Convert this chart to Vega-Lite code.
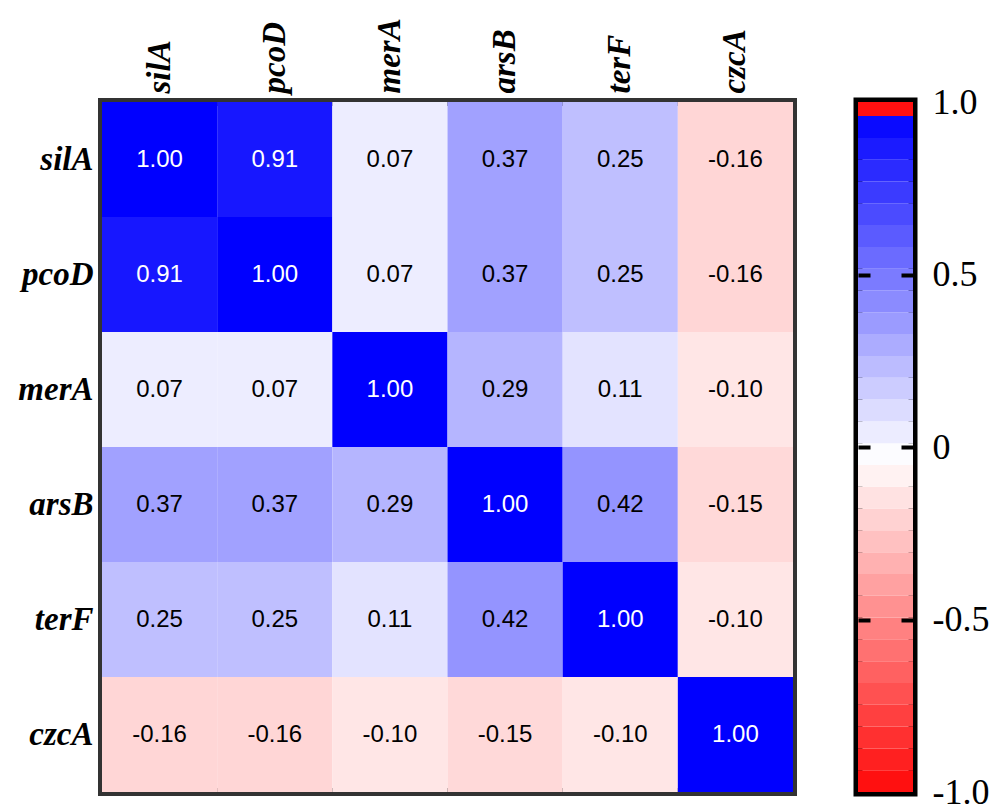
{
  "$schema": "https://vega.github.io/schema/vega-lite/v6.json",
  "background": "white",
  "padding": {"left": 8, "top": 8, "right": 0, "bottom": 0},
  "config": {
    "locale": {"number": {"decimal": ".", "thousands": ",", "grouping": [3], "currency": ["$", ""], "minus": "-"}},
    "view": {"stroke": null},
    "concat": {"spacing": 54}
  },
  "datasets": {
    "corr": [
      {"row": "silA", "col": "silA", "value": 1.00}, {"row": "silA", "col": "pcoD", "value": 0.91}, {"row": "silA", "col": "merA", "value": 0.07}, {"row": "silA", "col": "arsB", "value": 0.37}, {"row": "silA", "col": "terF", "value": 0.25}, {"row": "silA", "col": "czcA", "value": -0.16},
      {"row": "pcoD", "col": "silA", "value": 0.91}, {"row": "pcoD", "col": "pcoD", "value": 1.00}, {"row": "pcoD", "col": "merA", "value": 0.07}, {"row": "pcoD", "col": "arsB", "value": 0.37}, {"row": "pcoD", "col": "terF", "value": 0.25}, {"row": "pcoD", "col": "czcA", "value": -0.16},
      {"row": "merA", "col": "silA", "value": 0.07}, {"row": "merA", "col": "pcoD", "value": 0.07}, {"row": "merA", "col": "merA", "value": 1.00}, {"row": "merA", "col": "arsB", "value": 0.29}, {"row": "merA", "col": "terF", "value": 0.11}, {"row": "merA", "col": "czcA", "value": -0.10},
      {"row": "arsB", "col": "silA", "value": 0.37}, {"row": "arsB", "col": "pcoD", "value": 0.37}, {"row": "arsB", "col": "merA", "value": 0.29}, {"row": "arsB", "col": "arsB", "value": 1.00}, {"row": "arsB", "col": "terF", "value": 0.42}, {"row": "arsB", "col": "czcA", "value": -0.15},
      {"row": "terF", "col": "silA", "value": 0.25}, {"row": "terF", "col": "pcoD", "value": 0.25}, {"row": "terF", "col": "merA", "value": 0.11}, {"row": "terF", "col": "arsB", "value": 0.42}, {"row": "terF", "col": "terF", "value": 1.00}, {"row": "terF", "col": "czcA", "value": -0.10},
      {"row": "czcA", "col": "silA", "value": -0.16}, {"row": "czcA", "col": "pcoD", "value": -0.16}, {"row": "czcA", "col": "merA", "value": -0.10}, {"row": "czcA", "col": "arsB", "value": -0.15}, {"row": "czcA", "col": "terF", "value": -0.10}, {"row": "czcA", "col": "czcA", "value": 1.00}
    ],
    "bins": [
      {"lo": -1.0, "hi": -0.9368}, {"lo": -0.9368, "hi": -0.8736}, {"lo": -0.8736, "hi": -0.8104}, {"lo": -0.8104, "hi": -0.7472},
      {"lo": -0.7472, "hi": -0.684}, {"lo": -0.684, "hi": -0.6208}, {"lo": -0.6208, "hi": -0.5576}, {"lo": -0.5576, "hi": -0.4944},
      {"lo": -0.4944, "hi": -0.4312}, {"lo": -0.4312, "hi": -0.368}, {"lo": -0.368, "hi": -0.3048}, {"lo": -0.3048, "hi": -0.2416},
      {"lo": -0.2416, "hi": -0.1784}, {"lo": -0.1784, "hi": -0.1152}, {"lo": -0.1152, "hi": -0.052}, {"lo": -0.052, "hi": 0.0112},
      {"lo": 0.0112, "hi": 0.0744}, {"lo": 0.0744, "hi": 0.1376}, {"lo": 0.1376, "hi": 0.2008}, {"lo": 0.2008, "hi": 0.264},
      {"lo": 0.264, "hi": 0.3272}, {"lo": 0.3272, "hi": 0.3904}, {"lo": 0.3904, "hi": 0.4536}, {"lo": 0.4536, "hi": 0.5168},
      {"lo": 0.5168, "hi": 0.58}, {"lo": 0.58, "hi": 0.6432}, {"lo": 0.6432, "hi": 0.7064}, {"lo": 0.7064, "hi": 0.7696},
      {"lo": 0.7696, "hi": 0.8328}, {"lo": 0.8328, "hi": 0.896}, {"lo": 0.896, "hi": 0.9592}
    ],
    "top": [{"lo": 0.9592, "hi": 1.0}]
  },
  "hconcat": [
    {
      "width": 691,
      "height": 690,
      "data": {"name": "corr"},
      "view": {"stroke": "#333333", "strokeWidth": 8},
      "encoding": {
        "x": {
          "field": "col", "type": "nominal",
          "sort": ["silA", "pcoD", "merA", "arsB", "terF", "czcA"],
          "scale": {"paddingInner": 0, "paddingOuter": 0},
          "axis": {"orient": "top", "title": null, "ticks": false, "domain": false, "labelAngle": -90, "labelAlign": "left", "labelBaseline": "middle", "labelPadding": 9, "labelFont": "Liberation Serif", "labelFontSize": 33, "labelFontStyle": "italic", "labelFontWeight": "bold", "labelColor": "black", "minExtent": 90, "maxExtent": 90}
        },
        "y": {
          "field": "row", "type": "nominal",
          "sort": ["silA", "pcoD", "merA", "arsB", "terF", "czcA"],
          "scale": {"paddingInner": 0, "paddingOuter": 0},
          "axis": {"orient": "left", "title": null, "ticks": false, "domain": false, "labelPadding": 9, "labelFont": "Liberation Serif", "labelFontSize": 33, "labelFontStyle": "italic", "labelFontWeight": "bold", "labelColor": "black", "minExtent": 90, "maxExtent": 90}
        }
      },
      "layer": [
        {
          "mark": {"type": "rect"},
          "encoding": {
            "color": {"field": "value", "type": "quantitative", "scale": {"domain": [-1, 0, 1], "range": ["#ff0000", "#ffffff", "#0000ff"], "interpolate": "rgb"}, "legend": null}
          }
        },
        {
          "mark": {"type": "text", "font": "Liberation Sans", "fontSize": 24},
          "encoding": {
            "text": {"field": "value", "type": "quantitative", "format": ".2f"},
            "color": {"condition": {"test": "datum.value > 0.5", "value": "white"}, "value": "black"}
          }
        }
      ]
    },
    {
      "width": 55,
      "height": 690,
      "view": {"stroke": "black", "strokeWidth": 9},
      "encoding": {
        "x": {"datum": 0, "type": "quantitative", "scale": {"domain": [0, 1], "nice": false, "zero": false}, "axis": null},
        "x2": {"datum": 1}
      },
      "layer": [
        {
          "data": {"name": "bins"},
          "mark": {"type": "rect"},
          "encoding": {
            "y": {"field": "lo", "type": "quantitative", "scale": {"domain": [-1, 1], "nice": false, "zero": false},
              "axis": {"orient": "left", "values": [-0.5, 0, 0.5], "labels": false, "domain": false, "grid": false, "ticks": true, "tickSize": -12, "tickWidth": 4, "tickColor": "black", "title": null, "minExtent": 0, "maxExtent": 0, "offset": 0, "zindex": 2}},
            "y2": {"field": "hi"},
            "color": {"field": "hi", "type": "quantitative", "legend": null}
          }
        },
        {
          "data": {"name": "top"},
          "mark": {"type": "rect", "color": "#ff1010"},
          "encoding": {
            "y": {"field": "lo", "type": "quantitative", "scale": {"domain": [-1, 1], "nice": false, "zero": false},
              "axis": {"orient": "right", "values": [-1, -0.5, 0, 0.5, 1], "labelExpr": "datum.value == 0 ? '0' : format(datum.value, '.1f')", "labelFont": "Liberation Serif", "labelFontSize": 36, "labelColor": "black", "labelFlush": false, "labelOverlap": false, "domain": false, "grid": false, "tickSize": -12, "tickWidth": 4, "tickColor": {"condition": {"test": "abs(datum.value) > 0.9", "value": "transparent"}, "value": "black"}, "labelPadding": 31, "title": null, "zindex": 2}},
            "y2": {"field": "hi"}
          }
        }
      ],
      "resolve": {"scale": {"y": "independent"}, "axis": {"y": "independent"}}
    }
  ]
}
